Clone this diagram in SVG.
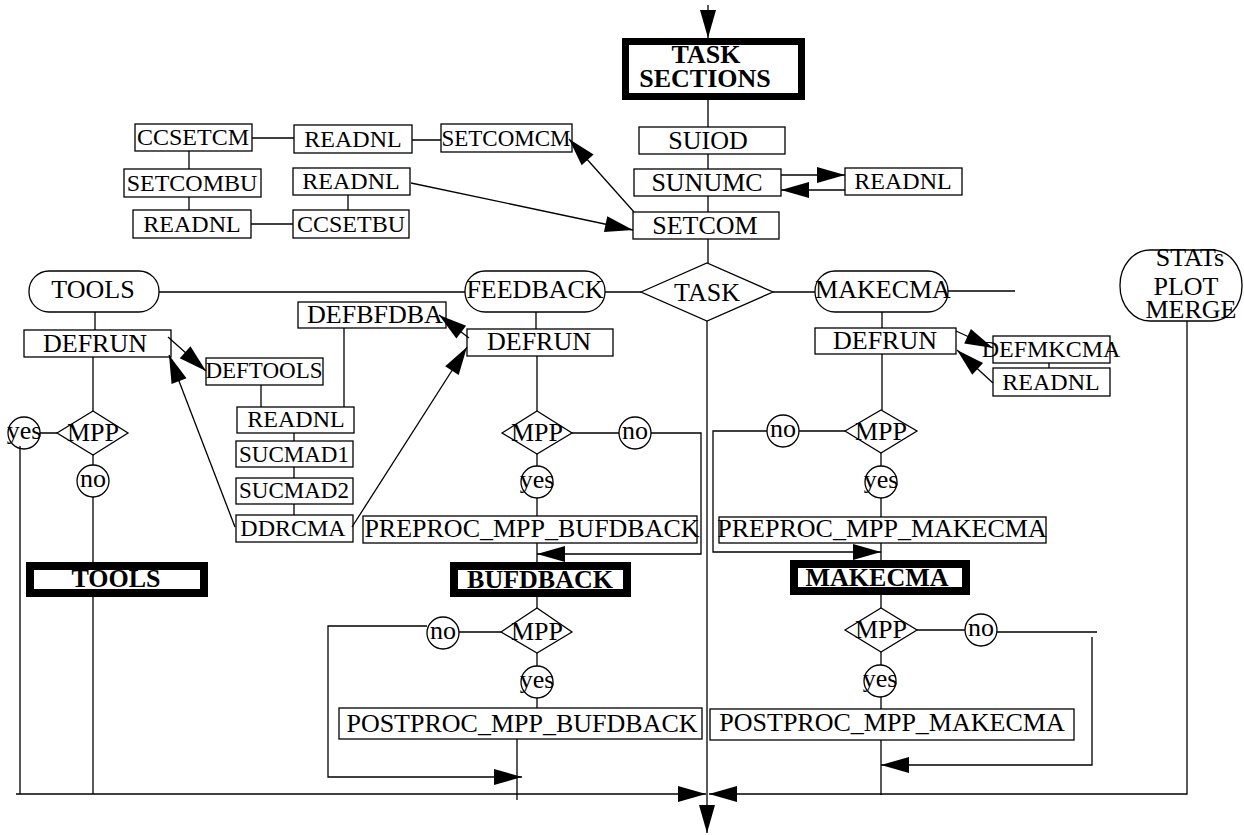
<svg xmlns="http://www.w3.org/2000/svg" width="1244" height="835" viewBox="0 0 1244 835">
<style>
.b{fill:#fff;stroke:#000;stroke-width:1.3}
.k{fill:#fff;stroke:#000;stroke-width:8}
.c{fill:none;stroke:#000;stroke-width:1.3}
.a{fill:none;stroke:#000;stroke-width:1.3;marker-end:url(#ah)}
text{font-family:"Liberation Serif","Times New Roman",serif;font-size:26px;text-anchor:middle;fill:#000}
.s{font-size:24px}
.s3{font-size:23px}
.bd{font-weight:bold}
</style>
<defs>
<marker id="ah" markerUnits="userSpaceOnUse" markerWidth="28" markerHeight="16" refX="28" refY="8" orient="auto" overflow="visible">
<path d="M0,0 L28,8 L0,16 Z" fill="#000"/>
</marker>
</defs>
<rect width="1244" height="835" fill="#fff"/>

<g id="task-sections"><rect x="625.5" y="41.5" width="176" height="55" fill="#fff" stroke="#000" stroke-width="7"/><text class="bd" x="706" y="63">TASK</text><text class="bd" x="705" y="87">SECTIONS</text></g>
<g id="suiod"><rect class="b" x="639" y="127" width="146" height="27"/><text x="708" y="149">SUIOD</text></g>
<g id="sunumc"><rect class="b" x="634" y="169" width="147" height="27"/><text x="707" y="191">SUNUMC</text></g>
<g id="setcom"><rect class="b" x="633" y="212" width="146" height="27"/><text x="705" y="234">SETCOM</text></g>
<g id="readnl-r"><rect class="b" x="845" y="168" width="117" height="27"/><text class="s" x="903" y="189">READNL</text></g>

<g id="ccsetcm"><rect class="b" x="135" y="124" width="117" height="27"/><text class="s" x="193" y="145">CCSETCM</text></g>
<g id="readnl1"><rect class="b" x="294" y="125" width="118" height="28"/><text class="s" x="353" y="147">READNL</text></g>
<g id="setcomcm"><rect class="b" x="441" y="124" width="131" height="28"/><text class="s3" x="506" y="146">SETCOMCM</text></g>
<g id="setcombu"><rect class="b" x="124" y="169" width="137" height="28"/><text class="s" x="192" y="191">SETCOMBU</text></g>
<g id="readnl2"><rect class="b" x="293" y="168" width="117" height="27"/><text class="s" x="351" y="189">READNL</text></g>
<g id="readnl3"><rect class="b" x="133" y="210" width="118" height="28"/><text class="s" x="192" y="232">READNL</text></g>
<g id="ccsetbu"><rect class="b" x="293" y="210" width="116" height="28"/><text class="s" x="351" y="232">CCSETBU</text></g>

<g id="task"><polygon class="b" points="641,292 707,263 773,292 707,321"/><text x="707" y="301">TASK</text></g>
<g id="tools-r"><rect class="b" x="29" y="271" width="130" height="41" rx="20"/><text x="93" y="298">TOOLS</text></g>
<g id="feedback"><rect class="b" x="465" y="271" width="140" height="41" rx="20"/><text x="535" y="298">FEEDBACK</text></g>
<g id="makecma-r"><rect class="b" x="815" y="271" width="133" height="41" rx="20"/><text x="883" y="298">MAKECMA</text></g>
<g id="stats"><rect class="b" x="1120" y="250" width="122" height="71" rx="30" ry="35"/><text x="1190" y="266">STATs</text><text x="1186" y="295">PLOT</text><text x="1191" y="318">MERGE</text></g>

<g id="defrun-l"><rect class="b" x="24" y="330" width="147" height="27"/><text x="95" y="352">DEFRUN</text></g>
<g id="deftools"><rect class="b" x="206" y="358" width="117" height="27"/><text class="s3" x="264" y="378">DEFTOOLS</text></g>
<g id="defbfdba"><rect class="b" x="298" y="302" width="148" height="26"/><text x="375" y="323">DEFBFDBA</text></g>
<g id="readnl-mid"><rect class="b" x="237" y="407" width="117" height="26"/><text class="s" x="296" y="427">READNL</text></g>
<g id="sucmad1"><rect class="b" x="236" y="441" width="117" height="26"/><text class="s3" x="294" y="462">SUCMAD1</text></g>
<g id="sucmad2"><rect class="b" x="236" y="478" width="117" height="26"/><text class="s3" x="294" y="498">SUCMAD2</text></g>
<g id="ddrcma"><rect class="b" x="236" y="515" width="117" height="27"/><text class="s" x="293" y="536">DDRCMA</text></g>

<g id="mpp-l"><polygon class="b" points="57,433 93,411 128,433 93,455"/><text x="93" y="441">MPP</text></g>
<g id="yes-l"><circle class="b" cx="24" cy="433" r="16"/><text x="24" y="439">yes</text></g>
<g id="no-l"><circle class="b" cx="93" cy="481" r="16"/><text x="93" y="487">no</text></g>
<g id="tools-b"><rect class="k" x="30" y="566" width="174" height="27"/><text class="bd" x="116" y="587">TOOLS</text></g>

<g id="defrun-f"><rect class="b" x="467" y="329" width="146" height="27"/><text x="539" y="350">DEFRUN</text></g>
<g id="mpp-f"><polygon class="b" points="502,433 537,411 572,433 537,454"/><text x="537" y="441">MPP</text></g>
<g id="no-f"><circle class="b" cx="635" cy="433" r="16"/><text x="635" y="439">no</text></g>
<g id="yes-f"><circle class="b" cx="537" cy="482" r="16"/><text x="537" y="488">yes</text></g>
<g id="preproc-f"><rect class="b" x="363" y="516" width="334" height="27"/><text x="532" y="537">PREPROC_MPP_BUFDBACK</text></g>
<g id="bufdback"><rect class="k" x="454" y="566" width="173" height="27"/><text class="bd" x="540" y="588">BUFDBACK</text></g>
<g id="mpp2-f"><polygon class="b" points="501,632 537,608 572,632 537,653"/><text x="537" y="640">MPP</text></g>
<g id="no2-f"><circle class="b" cx="443" cy="633" r="16"/><text x="443" y="639">no</text></g>
<g id="yes2-f"><circle class="b" cx="537" cy="682" r="16"/><text x="537" y="688">yes</text></g>
<g id="postproc-f"><rect class="b" x="339" y="708" width="363" height="31"/><text x="522" y="732">POSTPROC_MPP_BUFDBACK</text></g>

<g id="defrun-m"><rect class="b" x="815" y="328" width="141" height="26"/><text x="885" y="349">DEFRUN</text></g>
<g id="defmkcma"><rect class="b" x="993" y="336" width="117" height="27"/><text class="s" x="1051" y="357">DEFMKCMA</text></g>
<g id="readnl-m"><rect class="b" x="993" y="368" width="117" height="28"/><text class="s" x="1051" y="390">READNL</text></g>
<g id="mpp-m"><polygon class="b" points="845,431 881,410 917,431 881,453"/><text x="881" y="440">MPP</text></g>
<g id="no-m"><circle class="b" cx="783" cy="431" r="16"/><text x="783" y="437">no</text></g>
<g id="yes-m"><circle class="b" cx="881" cy="482" r="16"/><text x="881" y="488">yes</text></g>
<g id="preproc-m"><rect class="b" x="719" y="517" width="327" height="26"/><text x="882" y="537">PREPROC_MPP_MAKECMA</text></g>
<g id="makecma-b"><rect class="k" x="794" y="564" width="172" height="27"/><text class="bd" x="877" y="586">MAKECMA</text></g>
<g id="mpp2-m"><polygon class="b" points="845,630 881,608 917,630 881,652"/><text x="881" y="638">MPP</text></g>
<g id="no2-m"><circle class="b" cx="981" cy="630" r="16"/><text x="981" y="636">no</text></g>
<g id="yes2-m"><circle class="b" cx="880" cy="681" r="16"/><text x="880" y="687">yes</text></g>
<g id="postproc-m"><rect class="b" x="710" y="709" width="364" height="31"/><text x="892" y="731">POSTPROC_MPP_MAKECMA</text></g>

<g id="connectors">
<path class="a" d="M708,5 L708,38"/>
<path class="c" d="M708,100 V127 M708,154 V169 M708,196 V212 M708,239 V263"/>
<path class="a" d="M781,175 L845,175"/>
<path class="a" d="M845,190 L781,190"/>
<path class="a" d="M634,212 L569,139"/>
<path class="a" d="M411,183 L633,230"/>
<path class="c" d="M252,138 H294 M412,140 H441 M189,151 V169 M189,197 V210 M251,224 H293 M348,195 V210"/>
<path class="c" d="M159,292 H465 M605,292 H641 M773,292 H815 M948,291 H1015"/>
<path class="a" d="M707,321 L707,833"/>
<path class="c" d="M95,312 V330 M93,357 V411 M40,433 H57 M20,446 V794 M93,455 V465 M93,497 V566 M93,593 V794"/>
<path class="a" d="M168,337 L206,371"/>
<path class="a" d="M235,527 L169,355"/>
<path class="c" d="M261,385 V407 M344,328 V407 M294,433 V441 M294,467 V478 M294,504 V515"/>
<path class="a" d="M352,527 L467,347"/>
<path class="a" d="M469,338 L439,315"/>
<path class="c" d="M536,312 V329 M537,356 V411 M572,433 H619 M537,454 V466 M537,498 V516 M537,543 V566 M537,593 V608 M501,632 H459 M537,653 V666 M537,698 V708 M517,739 V800"/>
<path class="a" d="M651,433 H701 V554 H537"/>
<path class="a" d="M427,626 H328 V777 H522"/>
<path class="a" d="M16,794 H706"/>
<path class="a" d="M1187,321 V794 H709"/>
<path class="c" d="M882,312 V328 M882,354 V410 M845,431 H799 M881,453 V466 M881,498 V517 M881,543 V564 M881,591 V608 M917,630 H965 M997,632 H1097 M881,652 V665 M881,697 V709 M881,740 V795 M1049,363 V368"/>
<path class="a" d="M956,331 L993,348"/>
<path class="a" d="M993,383 L957,350"/>
<path class="a" d="M767,431 H713 V552 H881"/>
<path class="a" d="M1092,637 V765 H881"/>
</g>
</svg>
